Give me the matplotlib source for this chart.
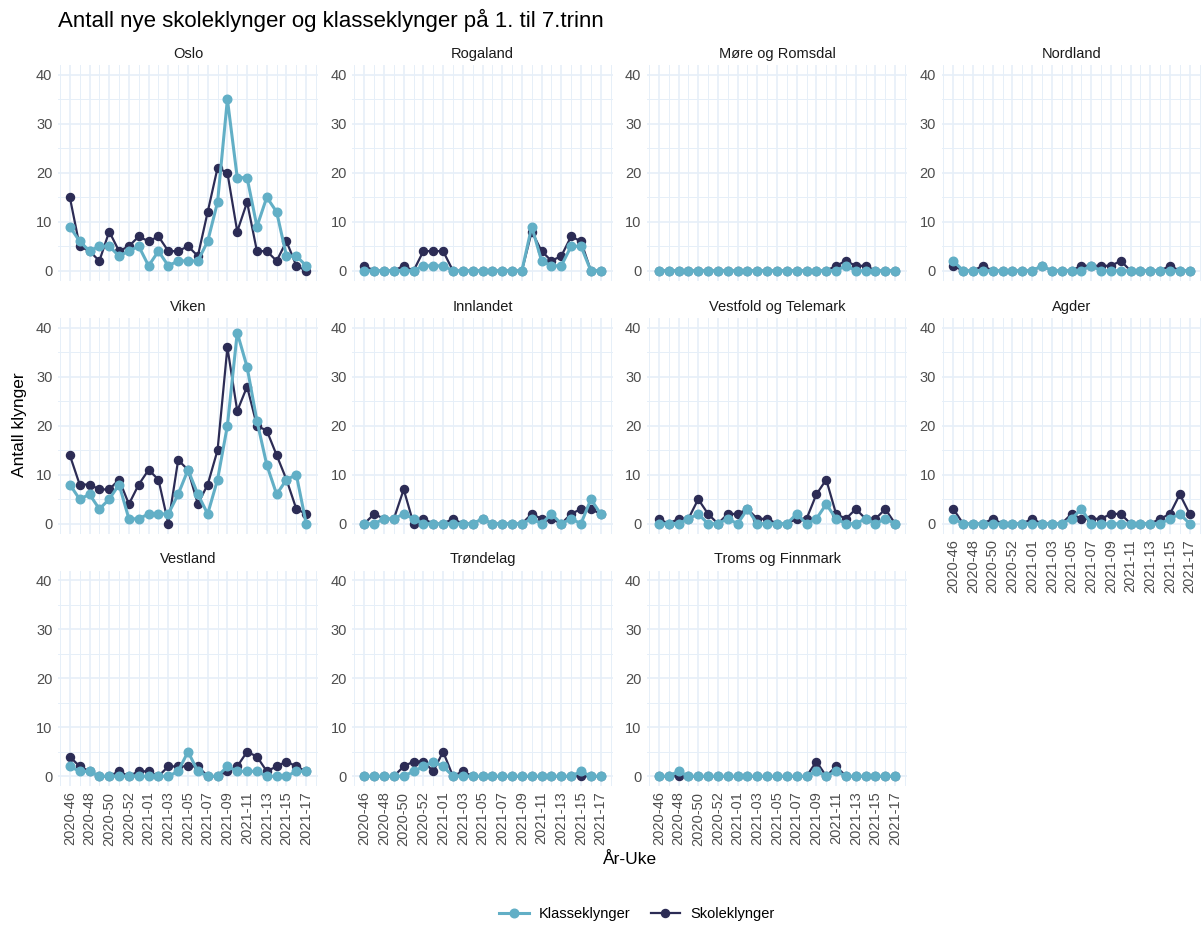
import matplotlib
matplotlib.use("Agg")
import matplotlib.pyplot as plt
from matplotlib.lines import Line2D

plt.rcParams['font.family'] = ['Liberation Sans', 'DejaVu Sans']

weeks = ["2020-46", "2020-47", "2020-48", "2020-49", "2020-50", "2020-51", "2020-52", "2020-53",
         "2021-01", "2021-02", "2021-03", "2021-04", "2021-05", "2021-06", "2021-07", "2021-08",
         "2021-09", "2021-10", "2021-11", "2021-12", "2021-13", "2021-14", "2021-15", "2021-16",
         "2021-17"]

regions = ["Oslo", "Rogaland", "Møre og Romsdal", "Nordland", "Viken", "Innlandet",
           "Vestfold og Telemark", "Agder", "Vestland", "Trøndelag", "Troms og Finnmark"]

klasse_oslo = [9, 6, 4, 5, 5, 3, 4, 5, 1, 4, 1, 2, 2, 2, 6, 14, 35, 19, 19, 9, 15, 12, 3, 3, 1]
skole_oslo = [15, 5, 4, 2, 8, 4, 5, 7, 6, 7, 4, 4, 5, 3, 12, 21, 20, 8, 14, 4, 4, 2, 6, 1, 0]
klasse_rogaland = [0, 0, 0, 0, 0, 0, 1, 1, 1, 0, 0, 0, 0, 0, 0, 0, 0, 9, 2, 1, 1, 5, 5, 0, 0]
skole_rogaland = [1, 0, 0, 0, 1, 0, 4, 4, 4, 0, 0, 0, 0, 0, 0, 0, 0, 8, 4, 2, 3, 7, 6, 0, 0]
klasse_more = [0, 0, 0, 0, 0, 0, 0, 0, 0, 0, 0, 0, 0, 0, 0, 0, 0, 0, 0, 1, 0, 0, 0, 0, 0]
skole_more = [0, 0, 0, 0, 0, 0, 0, 0, 0, 0, 0, 0, 0, 0, 0, 0, 0, 0, 1, 2, 1, 1, 0, 0, 0]
klasse_nordland = [2, 0, 0, 0, 0, 0, 0, 0, 0, 1, 0, 0, 0, 0, 1, 0, 0, 0, 0, 0, 0, 0, 0, 0, 0]
skole_nordland = [1, 0, 0, 1, 0, 0, 0, 0, 0, 1, 0, 0, 0, 1, 1, 1, 1, 2, 0, 0, 0, 0, 1, 0, 0]
klasse_viken = [8, 5, 6, 3, 5, 8, 1, 1, 2, 2, 2, 6, 11, 6, 2, 9, 20, 39, 32, 21, 12, 6, 9, 10, 0]
skole_viken = [14, 8, 8, 7, 7, 9, 4, 8, 11, 9, 0, 13, 11, 4, 8, 15, 36, 23, 28, 20, 19, 14, 9, 3, 2]
klasse_innlandet = [0, 0, 1, 1, 2, 1, 0, 0, 0, 0, 0, 0, 1, 0, 0, 0, 0, 1, 0, 2, 0, 1, 0, 5, 2]
skole_innlandet = [0, 2, 1, 1, 7, 0, 1, 0, 0, 1, 0, 0, 1, 0, 0, 0, 0, 2, 1, 1, 0, 2, 3, 3, 2]
klasse_vt = [0, 0, 0, 1, 2, 0, 0, 1, 0, 3, 0, 0, 0, 0, 2, 0, 1, 4, 1, 0, 0, 1, 0, 1, 0]
skole_vt = [1, 0, 1, 1, 5, 2, 0, 2, 2, 3, 1, 1, 0, 0, 1, 1, 6, 9, 2, 1, 3, 1, 1, 3, 0]
klasse_agder = [1, 0, 0, 0, 0, 0, 0, 0, 0, 0, 0, 0, 1, 3, 0, 0, 0, 0, 0, 0, 0, 0, 1, 2, 0]
skole_agder = [3, 0, 0, 0, 1, 0, 0, 0, 1, 0, 0, 0, 2, 1, 1, 1, 2, 2, 0, 0, 0, 1, 2, 6, 2]
klasse_vestland = [2, 1, 1, 0, 0, 0, 0, 0, 0, 0, 0, 1, 5, 1, 0, 0, 2, 1, 1, 1, 0, 0, 0, 1, 1]
skole_vestland = [4, 2, 1, 0, 0, 1, 0, 1, 1, 0, 2, 2, 2, 2, 0, 0, 1, 2, 5, 4, 1, 2, 3, 2, 1]
klasse_trondelag = [0, 0, 0, 0, 0, 1, 2, 3, 2, 0, 0, 0, 0, 0, 0, 0, 0, 0, 0, 0, 0, 0, 1, 0, 0]
skole_trondelag = [0, 0, 0, 0, 2, 3, 3, 1, 5, 0, 1, 0, 0, 0, 0, 0, 0, 0, 0, 0, 0, 0, 0, 0, 0]
klasse_troms = [0, 0, 1, 0, 0, 0, 0, 0, 0, 0, 0, 0, 0, 0, 0, 0, 1, 0, 1, 0, 0, 0, 0, 0, 0]
skole_troms = [0, 0, 0, 0, 0, 0, 0, 0, 0, 0, 0, 0, 0, 0, 0, 0, 3, 0, 2, 0, 0, 0, 0, 0, 0]

klasse = [klasse_oslo, klasse_rogaland, klasse_more, klasse_nordland, klasse_viken,
          klasse_innlandet, klasse_vt, klasse_agder, klasse_vestland, klasse_trondelag,
          klasse_troms]
skole = [skole_oslo, skole_rogaland, skole_more, skole_nordland, skole_viken,
         skole_innlandet, skole_vt, skole_agder, skole_vestland, skole_trondelag, skole_troms]

C_KLASSE = "#62AFC6"
C_SKOLE = "#2C2C55"
GRID = "#E6EFF8"
TICK = "#4D4D4D"

W, H = 1201, 925
fig = plt.figure(figsize=(W / 100, H / 100), dpi=100)

col_left = [58, 352.5, 647, 941.5]
col_w = 260
row_top = [65, 318, 570.5]
row_h = 215.5

x = list(range(len(weeks)))
label_idx = list(range(0, len(weeks), 2))

for i, name in enumerate(regions):
    r, c = divmod(i, 4)
    left = col_left[c] / W
    bottom = 1 - (row_top[r] + row_h) / H
    ax = fig.add_axes([left, bottom, col_w / W, row_h / H])
    ax.set_xlim(-1.2, len(weeks) - 1 + 1.2)
    ax.set_ylim(-2, 42)
    for s in ax.spines.values():
        s.set_visible(False)
    ax.set_yticks([0, 10, 20, 30, 40])
    ax.set_yticks([5, 15, 25, 35], minor=True)
    ax.set_xticks(label_idx)
    ax.set_xticks([k for k in range(-1, len(weeks) + 1) if k % 2 == 1], minor=True)
    ax.grid(True, which='major', color=GRID, lw=1.2)
    ax.grid(True, which='minor', color=GRID, lw=0.7)
    ax.set_axisbelow(True)
    ax.tick_params(which='both', length=0, colors=TICK, labelsize=10.5, pad=4)
    bottom_panel = (r == 2) or (r == 1 and c == 3)
    if bottom_panel:
        ax.set_xticklabels([weeks[k] for k in label_idx], rotation=90)
    else:
        ax.set_xticklabels([])
    ax.plot(x, skole[i], color=C_SKOLE, lw=1.6, marker='o', ms=5.8, zorder=3)
    ax.plot(x, klasse[i], color=C_KLASSE, lw=2.2, marker='o', ms=6.2, zorder=4)
    ax.text(0.5, 1.02, name, transform=ax.transAxes, ha='center', va='bottom',
            fontsize=10.5, color='#1A1A1A')

fig.text(58 / W, 1 - 20 / H, "Antall nye skoleklynger og klasseklynger på 1. til 7.trinn",
         ha='left', va='center', fontsize=16, color='black')
fig.text(20 / W, 1 - 425 / H, "Antall klynger", rotation=90, ha='center', va='center',
         fontsize=12.5, color='black')
fig.text(630 / W, 1 - 860 / H, "År-Uke", ha='center', va='center', fontsize=12.5,
         color='black')

handles = [Line2D([], [], color=C_KLASSE, lw=2.2, marker='o', ms=6.2),
           Line2D([], [], color=C_SKOLE, lw=1.6, marker='o', ms=5.8)]
fig.legend(handles, ["Klasseklynger", "Skoleklynger"], loc='center',
           bbox_to_anchor=(637 / W, 1 - 914 / H), ncol=2, frameon=False,
           fontsize=10.5, handlelength=2.0, columnspacing=1.4, handletextpad=0.7)

fig.savefig("out.png", dpi=100)
